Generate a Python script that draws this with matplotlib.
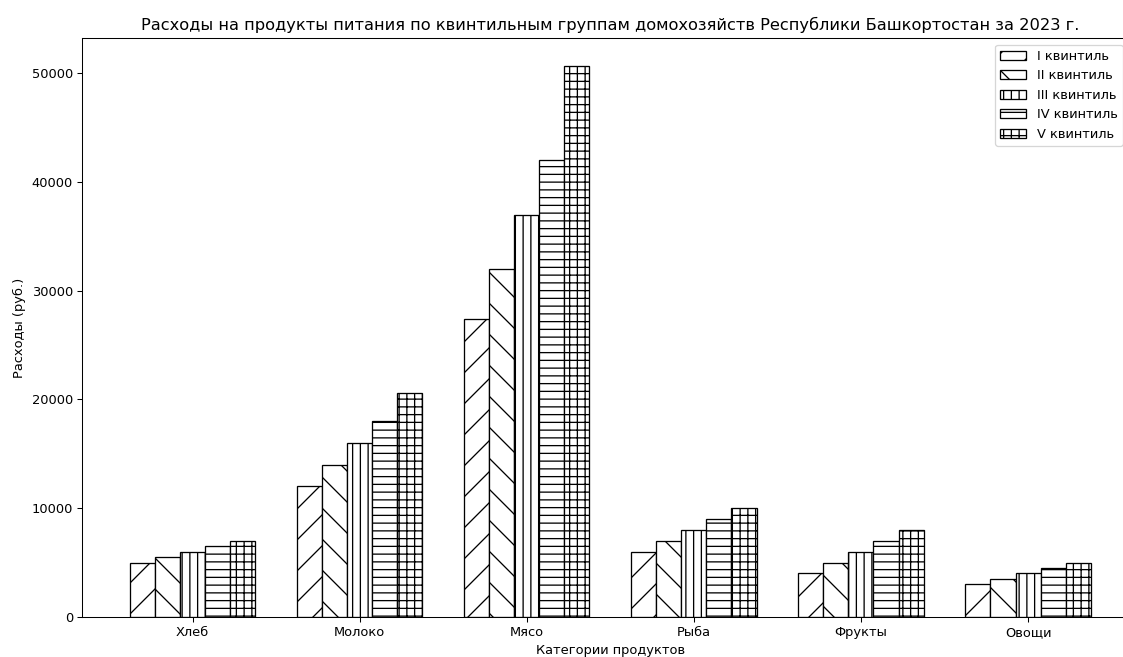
import numpy as np
import matplotlib
matplotlib.use("Agg")
import matplotlib.pyplot as plt

categories = ["Хлеб", "Молоко", "Мясо", "Рыба", "Фрукты", "Овощи"]
labels = ["I квинтиль", "II квинтиль", "III квинтиль", "IV квинтиль", "V квинтиль"]
q1 = [5000, 12000, 27400, 6000, 4000, 3000]
q2 = [5500, 14000, 32000, 7000, 5000, 3500]
q3 = [6000, 16000, 37000, 8000, 6000, 4000]
q4 = [6500, 18000, 42000, 9000, 7000, 4500]
q5 = [7000, 20600, 50700, 10000, 8000, 5000]
hatches = ["/", "\\", "||", "--", "++"]

series = [q1, q2, q3, q4, q5]
x = np.arange(len(categories))
width = 0.15

DPI = 93.6
fig = plt.figure(figsize=(1123 / DPI, 657 / DPI), dpi=DPI)
ax = fig.add_axes([0.073, 0.061, 0.941, 0.881])

for i, vals in enumerate(series):
    ax.bar(x + (i - 2) * width, vals, width, label=labels[i],
           color="white", edgecolor="black", hatch=hatches[i])

ax.set_xticks(x)
ax.set_xticklabels(categories)
ax.set_xlabel("Категории продуктов")
ax.set_ylabel("Расходы (руб.)")
ax.set_title("Расходы на продукты питания по квинтильным группам домохозяйств Республики Башкортостан за 2023 г.",
             fontsize=12.5)
ax.legend(loc="upper right", bbox_to_anchor=(0.991, 1.0))

fig.savefig("out.png", dpi=DPI)
